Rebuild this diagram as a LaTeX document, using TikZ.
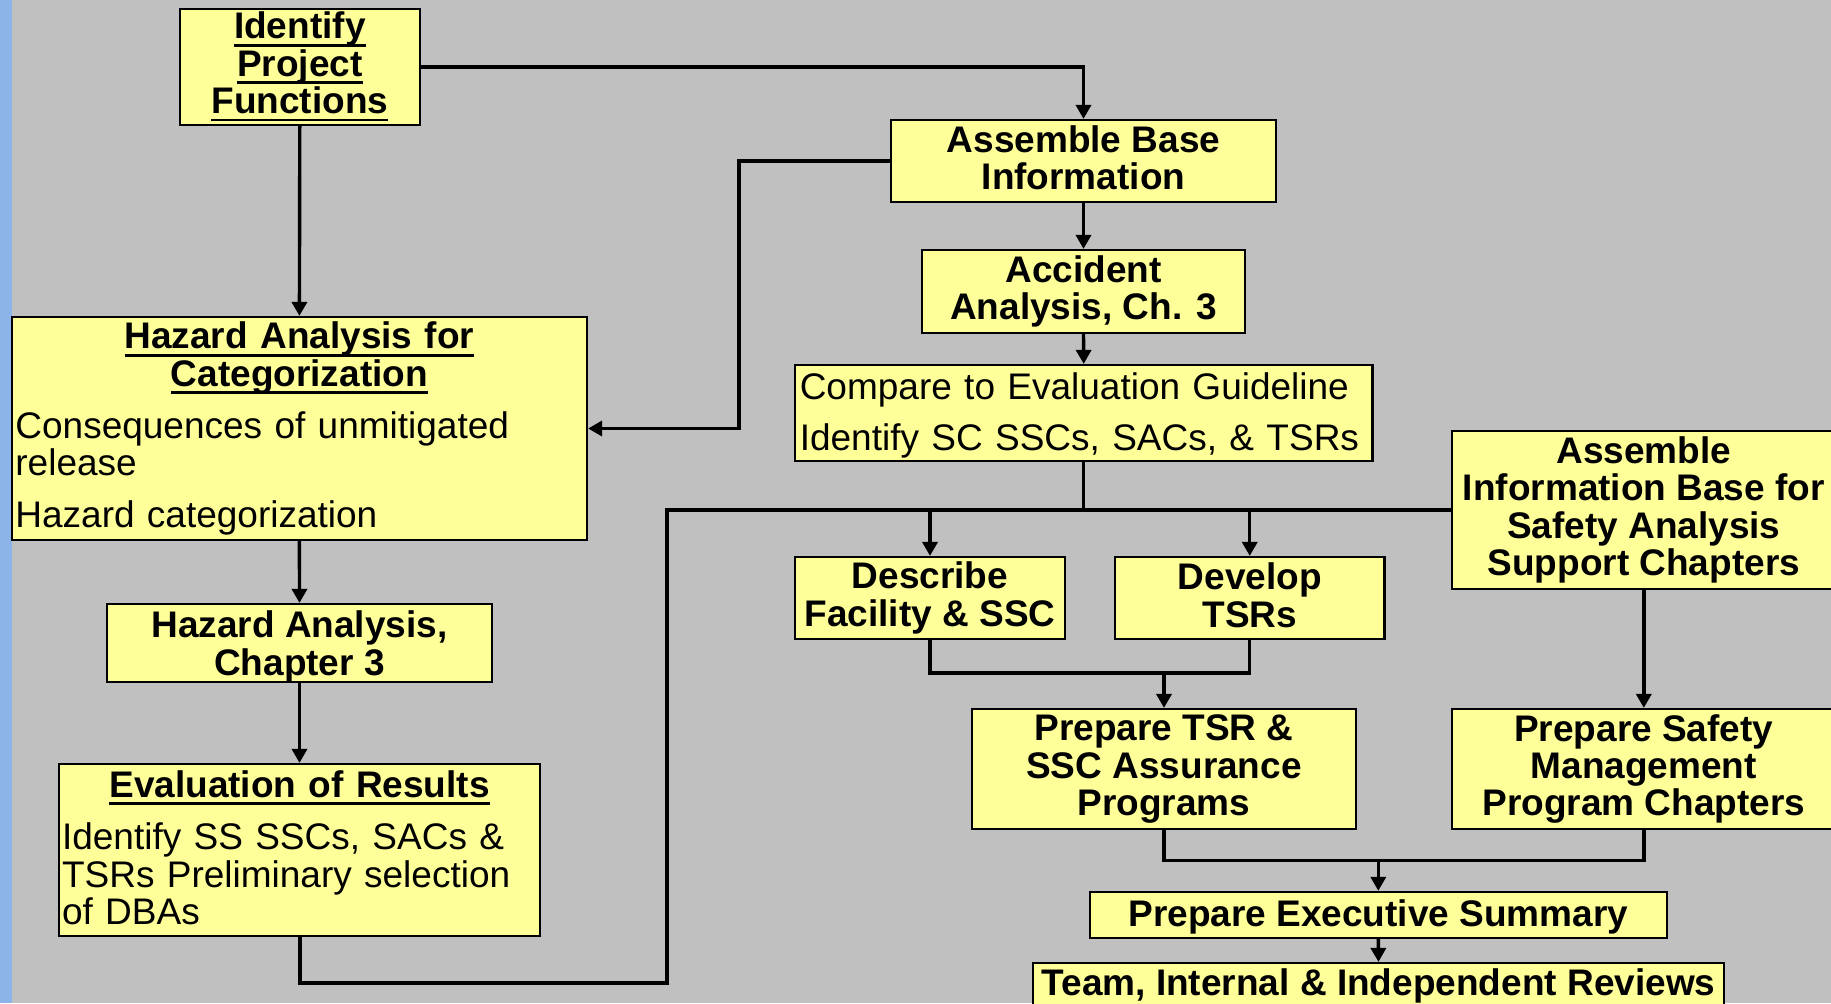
\documentclass[tikz,border=0pt]{standalone}
\usepackage{fontspec}
\setmainfont{Liberation Sans}
\usetikzlibrary{arrows.meta}
\definecolor{bgray}{RGB}{192,192,192}
\definecolor{sblue}{RGB}{141,180,232}
\definecolor{byel}{RGB}{255,255,153}
\newcommand\ulin[1]{\setbox0\hbox{#1}\rlap{\rule[-0.21em]{\wd0}{0.075em}}\box0}
\begin{document}
\begin{tikzpicture}[x=0.5pt,y=-0.5pt,
  box/.style={draw=black, line width=1.1pt, fill=byel, inner sep=0pt, align=center,
     font=\fontsize{18.5}{18.7}\selectfont\bfseries},
  arr/.style={line width=1.7pt, -{Triangle[length=7pt,width=7.5pt]}},
  ln/.style={line width=1.7pt},
  bus/.style={line width=2pt}]
\useasboundingbox (0,0) rectangle (1831,1003);
\clip (0,0) rectangle (1831,1003);
\fill[bgray] (0,0) rectangle (1831,1003);
\fill[sblue] (0,0) rectangle (11.7,1003);

% nodes
\node[box, minimum width=120.2pt, minimum height=58.2pt] (IPF) at (299.8,66.8)
  {\ulin{Identify}\\\ulin{Project}\\\ulin{Functions}};
\node[box, minimum width=192.5pt, minimum height=41pt, text depth=3.5pt] (ABI) at (1083.5,161)
  {Assemble Base\\Information};
\node[box, minimum width=161.5pt, minimum height=41.5pt] (ACC) at (1083.5,291.5)
  {Accident\\Analysis, Ch. 3};
\node[box, minimum width=288.75pt, minimum height=48pt, text width=284pt, align=left,
      text height=15.8pt] (CMP) at (1083.75,413)
  {\mdseries Compare to Evaluation Guideline\\[7pt]Identify SC SSCs, SACs, \& TSRs};
\node[box, minimum width=287.6pt, minimum height=111.5pt, text width=284pt, align=left] (HAC) at (299.4,428.5)
  {\makebox[284pt][c]{\ulin{Hazard Analysis for}}\\
   \makebox[284pt][c]{\ulin{Categorization}}\\[7.5pt]
   \mdseries Consequences of unmitigated\\release\\[7pt]
   Hazard categorization};
\node[box, minimum width=192.5pt, minimum height=39pt, text depth=0pt] (HA3) at (299.5,643)
  {Hazard Analysis,\\Chapter 3};
\node[box, minimum width=240.5pt, minimum height=86pt, text width=237.5pt, align=left,
      text height=11.2pt] (EVA) at (299.5,850)
  {\makebox[237.5pt][c]{\ulin{Evaluation of Results}}\\[7.5pt]
   \mdseries Identify SS SSCs, SACs \&\\TSRs Preliminary selection\\of DBAs};
\node[box, minimum width=135pt, minimum height=41pt] (DES) at (930,598)
  {Describe\\Facility \& SSC};
\node[box, minimum width=134.75pt, minimum height=41pt, text depth=3pt] (DEV) at (1249.75,598)
  {Develop\\TSRs};
\node[box, minimum width=192.2pt, minimum height=79.2pt] (AIB) at (1643.8,510)
  {Assemble\\Information Base for\\Safety Analysis\\Support Chapters};
\node[box, minimum width=192.35pt, minimum height=60pt] (PTS) at (1164,769)
  {Prepare TSR \&\\SSC Assurance\\Programs};
\node[box, minimum width=192.2pt, minimum height=60pt] (PSM) at (1643.8,769)
  {Prepare Safety\\Management\\Program Chapters};
\node[box, minimum width=288.4pt, minimum height=22.9pt, text depth=1.6pt] (EXE) at (1378.3,914.8)
  {Prepare Executive Summary};
\node[box, minimum width=345.5pt, minimum height=23pt] (TEA) at (1378.5,986)
  {Team, Internal \& Independent Reviews};

% helper coordinates
\coordinate (k1) at (739,161);
\coordinate (b2) at (667,983);
\coordinate (j1) at (1164,673);
\coordinate (j2) at (1378.3,860.7);

% connectors
\draw[arr] (IPF.east) -| (ABI.north);
\draw[arr] (IPF.south) -- (HAC.north);
\draw[arr] (ABI.west) -- (k1) |- (HAC.east);
\draw[arr] (ABI.south) -- (ACC.north);
\draw[arr] (ACC.south) -- (CMP.north);
\draw[ln] (CMP.south) -- (CMP.south |- AIB.west);
\draw[arr] (HAC.south) -- (HA3.north);
\draw[arr] (HA3.south) -- (EVA.north);
\draw[bus] (EVA.south) |- (b2) |- (AIB.west);
\draw[arr] (DES.north |- AIB.west) -- (DES.north);
\draw[arr] (DEV.north |- AIB.west) -- (DEV.north);
\draw[ln] (DES.south) |- (j1) -| (DEV.south);
\draw[arr] (j1) -- (PTS.north);
\draw[arr] (AIB.south) -- (PSM.north);
\draw[ln] (PTS.south) |- (j2) -| (PSM.south);
\draw[arr] (j2) -- (EXE.north);
\draw[arr] (EXE.south) -- (TEA.north);
\end{tikzpicture}
\end{document}
